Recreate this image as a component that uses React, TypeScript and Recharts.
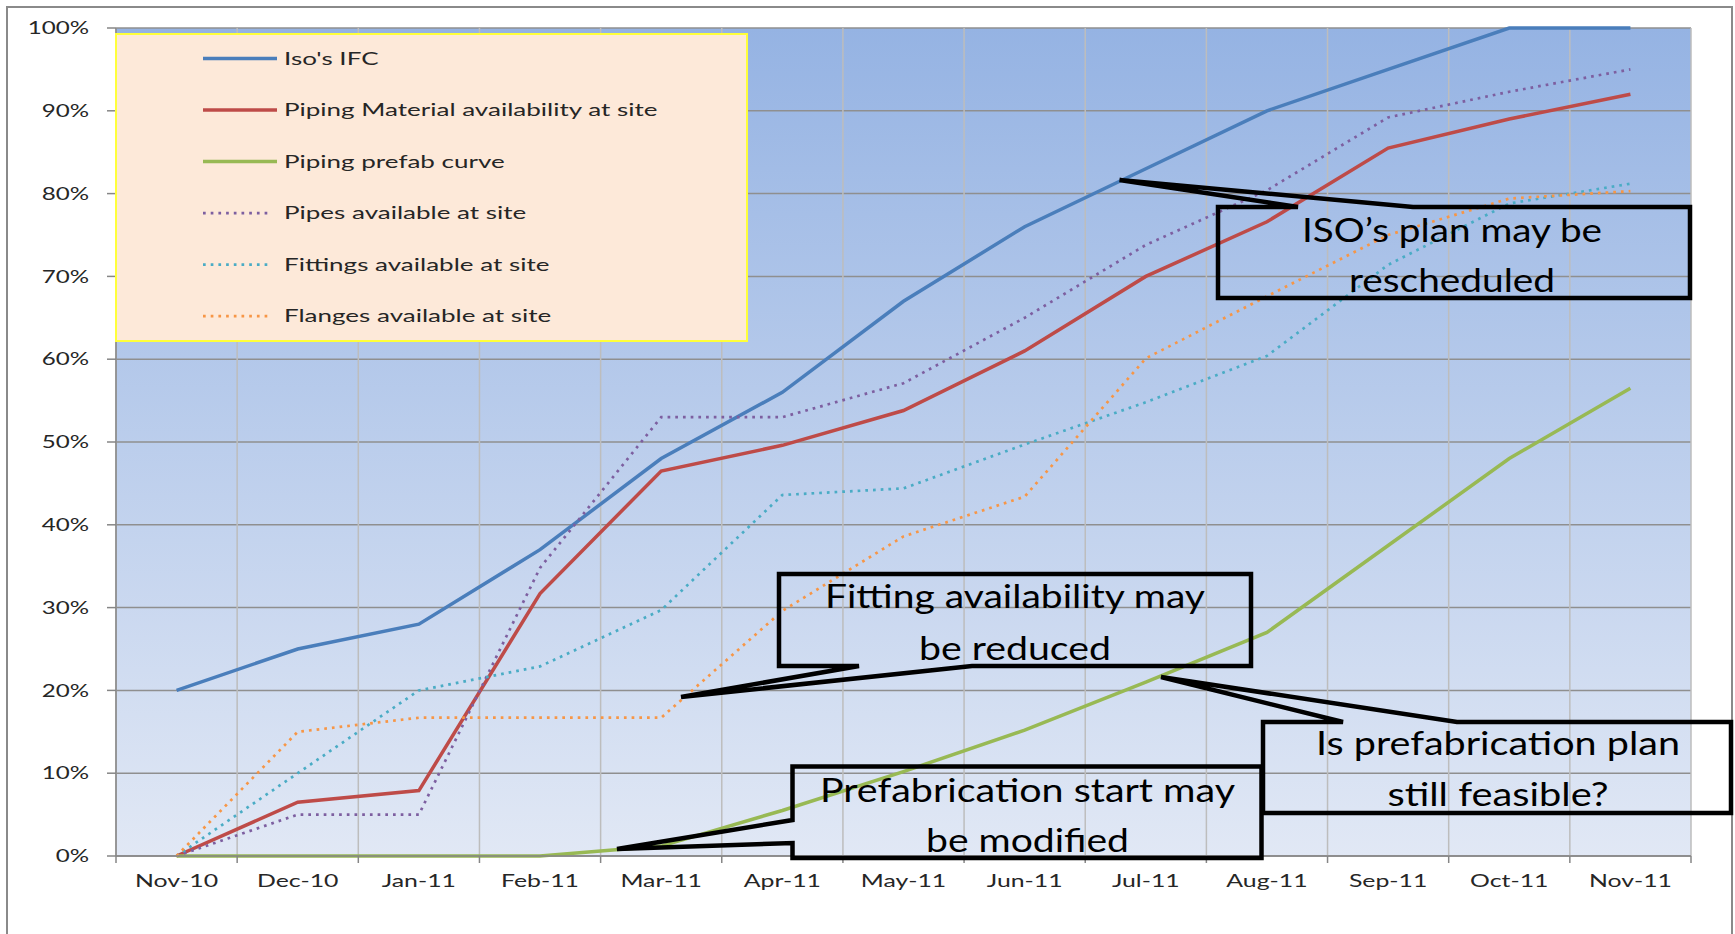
import { LineChart, Line, XAxis, YAxis, CartesianGrid, Legend } from 'recharts';

const MONTHS = ['Nov-10', 'Dec-10', 'Jan-11', 'Feb-11', 'Mar-11', 'Apr-11', 'May-11', 'Jun-11', 'Jul-11', 'Aug-11', 'Sep-11', 'Oct-11', 'Nov-11'];
const ISO_IFC = [20, 25, 28, 37, 48, 56, 67, 76, 83, 90, 95, 100, 100];
const PIPING_MATERIAL = [0, 6.5, 7.9, 31.7, 46.5, 49.6, 53.8, 61, 70, 76.6, 85.5, 89, 92];
const PREFAB = [0, 0, 0, 0, 1.2, 5.5, 10.2, 15.2, 21, 27, 37.5, 48, 56.5];
const PIPES = [0, 5, 5, 34.8, 53, 53, 57.1, 65, 73.8, 80.4, 89.2, 92.3, 95];
const FITTINGS = [0, 10, 20, 22.9, 29.7, 43.6, 44.4, 49.7, 54.8, 60.4, 71.4, 78.8, 81.2];
const FLANGES = [0, 15, 16.7, 16.7, 16.7, 29.6, 38.6, 43.4, 60.1, 67.6, 75, 79.4, 80.3];
const Y_TICKS = [0, 10, 20, 30, 40, 50, 60, 70, 80, 90, 100];

const NOTE_ISO = ['ISO\u2019s plan may be', 'rescheduled'];
const NOTE_FITTING = ['Fitting availability may', 'be reduced'];
const NOTE_PREFAB_START = ['Prefabrication start may', 'be modified'];
const NOTE_PREFAB_PLAN = ['Is prefabrication plan', 'still feasible?'];

const SERIES = [
  { key: 'iso', name: "Iso's IFC", color: '#4a7ebb', dash: undefined as string | undefined },
  { key: 'material', name: 'Piping Material availability at site', color: '#be4b48', dash: undefined },
  { key: 'prefab', name: 'Piping prefab curve', color: '#98b954', dash: undefined },
  { key: 'pipes', name: 'Pipes available at site', color: '#7d5fa0', dash: '2.7 5' },
  { key: 'fittings', name: 'Fittings available at site', color: '#4aacc5', dash: '2.7 5' },
  { key: 'flanges', name: 'Flanges available at site', color: '#f79646', dash: '2.7 5' },
];

const data = MONTHS.map((month, i) => ({
  idx: i,
  month,
  iso: ISO_IFC[i],
  material: PIPING_MATERIAL[i],
  prefab: PREFAB[i],
  pipes: PIPES[i],
  fittings: FITTINGS[i],
  flanges: FLANGES[i],
}));

const BOUNDS = MONTHS.map((_, i) => i - 0.5).concat(MONTHS.length - 0.5);
const CENTERS = MONTHS.map((_, i) => i);

const FONT = 'Lato, "Open Sans", sans-serif';
const TEXT = '#262626';
const AXIS = '#868686';

function YTick({ x, y, payload }: any) {
  return (
    <g transform={`translate(${x},${y}) scale(1.42,1)`}>
      <text x={0} y={0} dy="0.36em" textAnchor="end" fontFamily={FONT} fontSize={17} fill={TEXT}>
        {payload.value}%
      </text>
    </g>
  );
}

function XTick({ x, y, payload }: any) {
  return (
    <g transform={`translate(${x},${y + 23}) scale(1.46,1)`}>
      <text x={0} y={0} textAnchor="middle" fontFamily={FONT} fontSize={17} fill={TEXT}>
        {MONTHS[payload.value]}
      </text>
    </g>
  );
}

function LegendBox({ payload = [] }: any) {
  const items = [...payload].sort(
    (a: any, b: any) => SERIES.findIndex(s => s.key === a.dataKey) - SERIES.findIndex(s => s.key === b.dataKey)
  );
  return (
    <svg width={633} height={309} style={{ display: 'block' }}>
      <rect x={1} y={1} width={631} height={307} fill="#fde9d9" stroke="#ffff3a" strokeWidth={2} />
      {items.map((entry: any, i: number) => {
        const s = SERIES.find(d => d.key === entry.dataKey);
        const cy = 25.6 + i * 51.5;
        return (
          <g key={entry.dataKey}>
            <line x1={88} x2={s?.dash ? 156 : 162} y1={cy} y2={cy} stroke={entry.color}
              strokeWidth={s?.dash ? 2.7 : 3.5} strokeDasharray={s?.dash} />
            <g transform={`translate(169,${cy}) scale(1.53,1)`}>
              <text x={0} y={0} dy="0.36em" fontFamily={FONT} fontSize={17} fill={TEXT}>{entry.value}</text>
            </g>
          </g>
        );
      })}
    </svg>
  );
}

function Callout({ path, lines, cx, baselines, widths }: { path: string; lines: string[]; cx: number; baselines: number[]; widths: number[] }) {
  return (
    <g>
      <path d={path} fill="none" stroke="#000" strokeWidth={4.5} strokeLinejoin="miter" />
      {lines.map((t, i) => (
        <text key={i} x={cx} y={baselines[i]} textAnchor="middle" fontFamily={FONT} fontSize={33} fill="#000"
          textLength={widths[i]} lengthAdjust="spacingAndGlyphs">{t}</text>
      ))}
    </g>
  );
}

export default function App() {
  return (
    <div style={{ position: 'absolute', left: 0, top: 0, width: 1735, height: 934, background: '#fff', overflow: 'hidden' }}>
      <div style={{ position: 'absolute', left: 6, top: 6, width: 1727, height: 940, boxSizing: 'border-box', borderLeft: '2px solid #8a8a8a', borderTop: '2px solid #8a8a8a', borderRight: '2px solid #8a8a8a' }} />
      <div style={{ position: 'absolute', left: 0, top: 0 }}>
        <LineChart width={1735} height={934} data={data} margin={{ top: 28, right: 44, bottom: 30, left: 0 }}>
          <defs>
            <linearGradient id="plotBg" x1="0" y1="0" x2="0" y2="1">
              <stop offset="0%" stopColor="#95b3e3" />
              <stop offset="100%" stopColor="#e1e8f5" />
            </linearGradient>
          </defs>
          <CartesianGrid xAxisId="a_num" vertical={false} stroke="#8f8f8f" strokeWidth={1.5} fill="url(#plotBg)" />
          <CartesianGrid xAxisId="a_num" horizontal={false} stroke="#bdbdbd" strokeWidth={1.5} />
          <XAxis xAxisId="b_lab" dataKey="idx" type="number" domain={[-0.5, 12.5]} ticks={CENTERS} interval={0}
            axisLine={false} tickLine={false} tickSize={0} tickMargin={0} height={40} tick={<XTick />} allowDataOverflow />
          <XAxis xAxisId="a_num" dataKey="idx" type="number" domain={[-0.5, 12.5]} ticks={BOUNDS} interval={0}
            tickFormatter={() => ''} tickSize={7} height={8} stroke={AXIS} strokeWidth={1.5} allowDataOverflow />
          <YAxis domain={[0, 100]} ticks={Y_TICKS} interval={0} width={116} tickSize={9} tickMargin={18}
            stroke={AXIS} strokeWidth={1.5} tick={<YTick />} />
          <Legend layout="vertical" verticalAlign="middle" align="center" content={<LegendBox />}
            wrapperStyle={{ left: 115, top: 33, width: 633, height: 309 }} />
          {SERIES.map(s => (
            <Line key={s.key} xAxisId="a_num" type="linear" dataKey={s.key} name={s.name} stroke={s.color}
              strokeWidth={s.dash ? 2.7 : 3.5} strokeDasharray={s.dash} dot={false} activeDot={false}
              isAnimationActive={false} />
          ))}
        </LineChart>
      </div>
      <svg width={1735} height={934} style={{ position: 'absolute', left: 0, top: 0, pointerEvents: 'none' }}>
        <Callout path="M1218,207 L1298,207 L1119.5,180 L1413,207 L1690,207 L1690,298 L1218,298 Z"
          lines={NOTE_ISO} cx={1452} baselines={[241.7, 291.7]} widths={[300, 206]} />
        <Callout path="M779,574 L1251,574 L1251,666 L972,666 L681,697 L859,666 L779,666 Z"
          lines={NOTE_FITTING} cx={1015} baselines={[608, 659.5]} widths={[380, 192]} />
        <Callout path="M792.5,766.5 L1261.5,766.5 L1261.5,858 L792.5,858 L792.5,843 L617,849 L792.5,820 Z"
          lines={NOTE_PREFAB_START} cx={1027.5} baselines={[801.7, 851.7]} widths={[415, 203]} />
        <Callout path="M1263,722 L1343,722 L1161,677 L1457,722 L1731,722 L1731,813 L1263,813 Z"
          lines={NOTE_PREFAB_PLAN} cx={1498} baselines={[755, 806]} widths={[364, 221]} />
      </svg>
    </div>
  );
}
